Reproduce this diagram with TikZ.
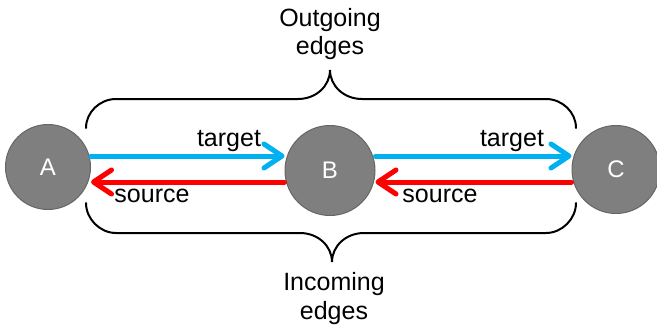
\documentclass[tikz,border=0pt]{standalone}
\usepackage{fontspec}
\setmainfont{Liberation Sans}
\usetikzlibrary{arrows.meta}
\definecolor{nodegray}{HTML}{7F7F7F}
\definecolor{nodeedge}{HTML}{666666}
\definecolor{outblue}{HTML}{00B0F0}
\definecolor{inred}{HTML}{FF0000}
\begin{document}
\begin{tikzpicture}[x=1pt,y=-1pt,
  vertex/.style={circle,fill=nodegray,draw=nodeedge,line width=1pt,inner sep=0pt,text=white,font=\fontsize{24}{28}\selectfont},
  lbl/.style={anchor=base,inner sep=0pt,font=\fontsize{25}{30}\selectfont},
  edgearrow/.style={line width=5pt,line cap=round,line join=round,-{Straight Barb[length=18pt,width=24pt,line cap=round,line join=round]}},
  brace/.style={line width=2pt,line cap=round}
]
\useasboundingbox (0,0) rectangle (657,327);
\node[vertex,minimum size=85pt] (A) at (48,167) {A};
\node[vertex,minimum size=90pt] (B) at (330,170.5) {B};
\node[vertex,minimum size=88pt] (C) at (616,169.5) {C};
% arrows
\draw[edgearrow,outblue] ([yshift=11pt]A.east) -- ([yshift=14.5pt]B.west);
\draw[edgearrow,inred] ([yshift=-11.5pt]B.west) -- ([yshift=-15pt]A.east);
\draw[edgearrow,outblue] ([yshift=14.5pt]B.east) -- ([yshift=13.5pt]C.west);
\draw[edgearrow,inred] ([yshift=-12.5pt]C.west) -- ([yshift=-11.5pt]B.east);
% labels
\node[lbl] (t1) at (229,146) {target};
\node[lbl] (t2) at (512,146) {target};
\node[lbl] (s1) at (152,202) {source};
\node[lbl] (s2) at (440,202) {source};
% braces
\coordinate (ob1) at (86,128);
\coordinate (ob2) at (576,128);
\coordinate (otip) at (330,70);
\draw[brace] (ob1) .. controls (86,112) and (100,99) .. (116,99) -- (298,99)
  .. controls (316,99) and (330,86) .. (otip)
  .. controls (330,86) and (344,99) .. (362,99) -- (546,99)
  .. controls (562,99) and (576,112) .. (ob2);
\coordinate (ib1) at (86,203);
\coordinate (ib2) at (576,203);
\coordinate (itip) at (332,262);
\draw[brace] (ib1) .. controls (86,219) and (100,233) .. (116,233) -- (300,233)
  .. controls (318,233) and (332,246) .. (itip)
  .. controls (332,246) and (346,233) .. (364,233) -- (546,233)
  .. controls (562,233) and (576,219) .. (ib2);
\node[lbl] (o1) at (330,26) {Outgoing};
\node[lbl] (o2) at (330,54) {edges};
\node[lbl] (i1) at (334,290) {Incoming};
\node[lbl] (i2) at (334,319) {edges};
\end{tikzpicture}
\end{document}
